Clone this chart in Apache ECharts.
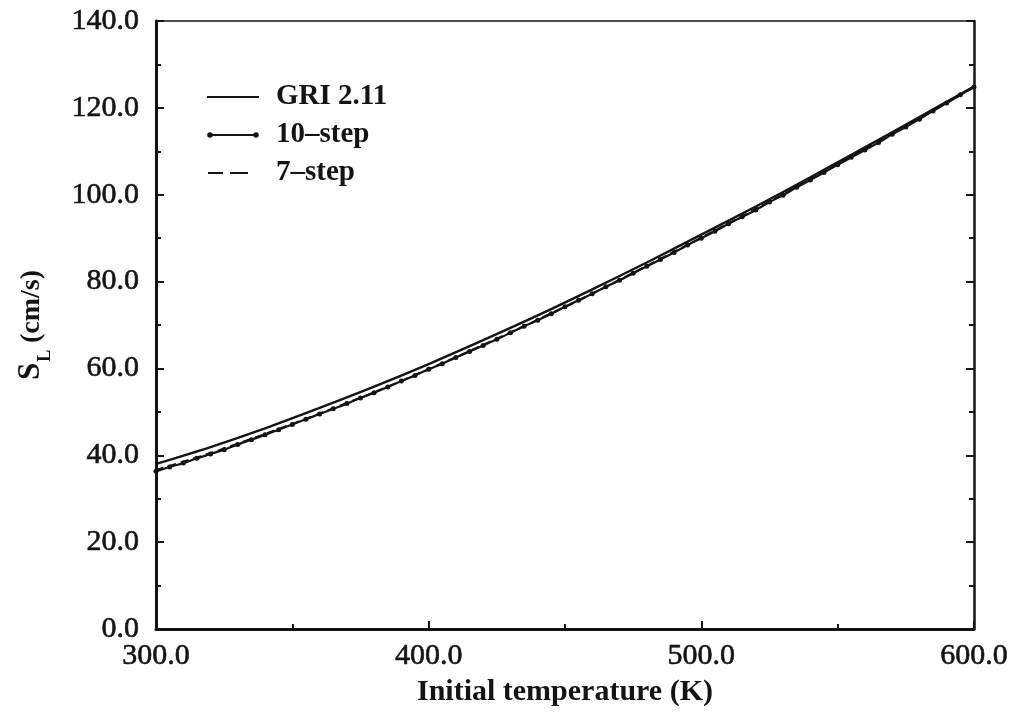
<!DOCTYPE html>
<html>
<head>
<meta charset="utf-8">
<script src="https://cdn.jsdelivr.net/npm/echarts@6/dist/echarts.min.js"></script>
<style>
  html, body { margin: 0; padding: 0; background: #ffffff; }
  #chart { width: 1011px; height: 715px; }
</style>
</head>
<body>
<div id="chart"></div>
<script>
// Laminar flame speed vs. initial temperature for three mechanisms
const seriesNames = ['GRI 2.11', '10\u2013step', '7\u2013step'];

// GRI 2.11, every 20 K
const griT = [300, 320, 340, 360, 380, 400, 420, 440, 460, 480, 500, 520, 540, 560, 580, 600];
const griSL = [38.0, 41.9, 46.2, 50.9, 55.8, 61.0, 66.5, 72.2, 78.2, 84.4, 90.8, 97.3, 104.0, 110.9, 117.9, 124.9];

// 10-step reduced mechanism, every 5 K
const tenT = [300, 305, 310, 315, 320, 325, 330, 335, 340, 345, 350, 355, 360, 365, 370, 375,
  380, 385, 390, 395, 400, 405, 410, 415, 420, 425, 430, 435, 440, 445, 450, 455,
  460, 465, 470, 475, 480, 485, 490, 495, 500, 505, 510, 515, 520, 525, 530, 535,
  540, 545, 550, 555, 560, 565, 570, 575, 580, 585, 590, 595, 600];
const tenSL = [36.3, 37.3, 38.2, 39.3, 40.3, 41.3, 42.5, 43.6, 44.7, 45.9, 47.1, 48.3, 49.5, 50.7, 51.9, 53.2,
  54.4, 55.7, 57.1, 58.4, 59.8, 61.1, 62.5, 63.9, 65.3, 66.7, 68.2, 69.7, 71.1, 72.6, 74.2, 75.7,
  77.2, 78.8, 80.3, 81.9, 83.5, 85.1, 86.7, 88.4, 90.0, 91.6, 93.3, 94.9, 96.5, 98.3, 99.9, 101.7,
  103.4, 105.1, 106.9, 108.6, 110.3, 112.0, 113.9, 115.6, 117.4, 119.3, 121.1, 123.0, 124.8];

// 7-step reduced mechanism, every 20 K
const sevT = [300, 320, 340, 360, 380, 400, 420, 440, 460, 480, 500, 520, 540, 560, 580, 600];
const sevSL = [36.6, 40.5, 44.9, 49.6, 54.5, 59.8, 65.4, 71.2, 77.2, 83.6, 90.1, 96.7, 103.5, 110.5, 117.6, 124.8];

// Axis ticks
const xTicks = [300, 400, 500, 600];
const yTicks = [0, 20, 40, 60, 80, 100, 120, 140];

const INK = '#141414';
const SERIF = '"Liberation Serif", "Times New Roman", serif';

function pairs(xs, ys) { return xs.map((x, i) => [x, ys[i]]); }

// Legend glyphs: a solid stroke, a stroke with end dots, and a two-dash stroke.
// Tiny corner anchors keep every glyph on the same 52x12 box.
const anchors = 'M0,0 L0.01,0 L0,0.01 Z M52,12 L51.99,12 L52,11.99 Z ';
const iconSolid = 'path://' + anchors + 'M0,5 L52,5 L52,7 L0,7 Z';
const iconDots = 'path://' + anchors +
  'M3,5 L49,5 L49,7 L3,7 Z ' +
  'M0.2,6 A2.8,2.8 0 1 1 5.8,6 A2.8,2.8 0 1 1 0.2,6 Z ' +
  'M46.2,6 A2.8,2.8 0 1 1 51.8,6 A2.8,2.8 0 1 1 46.2,6 Z';
const iconDash = 'path://' + anchors + 'M1,5 L16,5 L16,7 L1,7 Z M23,5 L41,5 L41,7 L23,7 Z';

const chart = echarts.init(document.getElementById('chart'), null, { renderer: 'canvas' });

const tickLabel = v => Number(v).toFixed(1);
const tickFont = {
  fontFamily: SERIF, fontSize: 30, color: INK,
  textBorderColor: INK, textBorderWidth: 0.6
};

chart.setOption({
  animation: false,
  backgroundColor: '#ffffff',
  grid: { left: 156, right: 36, top: 21, bottom: 86, containLabel: false },
  legend: {
    orient: 'vertical',
    left: 207,
    top: 82,
    padding: 0,
    itemWidth: 52,
    itemHeight: 12,
    itemGap: 8,
    selectedMode: false,
    textStyle: {
      fontFamily: SERIF, fontWeight: 'bold', fontSize: 29, color: INK,
      lineHeight: 30, padding: [0, 0, 0, 12]
    },
    data: [
      { name: seriesNames[0], icon: iconSolid, itemStyle: { color: INK } },
      { name: seriesNames[1], icon: iconDots, itemStyle: { color: INK } },
      { name: seriesNames[2], icon: iconDash, itemStyle: { color: INK } }
    ]
  },
  xAxis: [{
    type: 'value', min: 300, max: 600, interval: 100, position: 'bottom',
    name: 'Initial temperature (K)', nameLocation: 'middle', nameGap: 48,
    nameTextStyle: { fontFamily: SERIF, fontWeight: 'bold', fontSize: 30, color: INK },
    axisLine: { show: true, onZero: false, lineStyle: { color: INK, width: 3 } },
    axisTick: { show: true, inside: true, length: 8, lineStyle: { color: INK, width: 2 } },
    minorTick: { show: true, splitNumber: 2, length: 5, lineStyle: { color: INK, width: 2 } },
    axisLabel: Object.assign({ formatter: tickLabel, margin: 12, customValues: xTicks }, tickFont),
    splitLine: { show: false }
  }, {
    type: 'value', min: 300, max: 600, interval: 100, position: 'top',
    axisLine: { show: true, onZero: false, lineStyle: { color: INK, width: 1.5 } },
    axisTick: { show: false }, axisLabel: { show: false }, splitLine: { show: false }
  }],
  yAxis: [{
    type: 'value', min: 0, max: 140, interval: 20, position: 'left',
    name: '{s|S}{l|L}{g|  }{u|(cm/s)}', nameLocation: 'middle', nameGap: 110, nameRotate: 90,
    nameTextStyle: {
      color: INK,
      rich: {
        s: { fontFamily: SERIF, fontWeight: 'bold', fontSize: 31, color: INK, lineHeight: 36, verticalAlign: 'bottom' },
        l: { fontFamily: SERIF, fontWeight: 'bold', fontSize: 18, color: INK, lineHeight: 24, verticalAlign: 'bottom', padding: [0, 0, -8, 1] },
        g: { fontSize: 12, lineHeight: 36 },
        u: { fontFamily: SERIF, fontWeight: 'bold', fontSize: 28, color: INK, lineHeight: 36, verticalAlign: 'bottom' }
      }
    },
    axisLine: { show: true, onZero: false, lineStyle: { color: INK, width: 3 } },
    axisTick: { show: true, inside: true, length: 8, lineStyle: { color: INK, width: 2 } },
    minorTick: { show: true, splitNumber: 2, length: 5, lineStyle: { color: INK, width: 2 } },
    axisLabel: Object.assign({ formatter: tickLabel, margin: 17, customValues: yTicks }, tickFont),
    splitLine: { show: false }
  }, {
    type: 'value', min: 0, max: 140, interval: 20, position: 'right',
    axisLine: { show: true, onZero: false, lineStyle: { color: INK, width: 2.5 } },
    axisTick: { show: true, inside: true, length: 8, lineStyle: { color: INK, width: 2 } },
    minorTick: { show: true, splitNumber: 2, length: 5, lineStyle: { color: INK, width: 2 } },
    axisLabel: { show: false }, splitLine: { show: false }
  }],
  series: [{
    name: seriesNames[0], type: 'line', smooth: 0.3, showSymbol: false, symbol: 'none',
    data: pairs(griT, griSL), z: 3,
    lineStyle: { color: INK, width: 2.4 }, itemStyle: { color: INK }
  }, {
    name: seriesNames[1], type: 'line', smooth: 0.3, symbol: 'circle', symbolSize: 5, showSymbol: true,
    data: pairs(tenT, tenSL), z: 4,
    lineStyle: { color: INK, width: 2.2 }, itemStyle: { color: INK }
  }, {
    name: seriesNames[2], type: 'line', smooth: 0.3, showSymbol: false, symbol: 'none',
    data: pairs(sevT, sevSL), z: 2,
    lineStyle: { color: INK, width: 2.2, type: [8, 5] }, itemStyle: { color: INK }
  }]
});
</script>
</body>
</html>
